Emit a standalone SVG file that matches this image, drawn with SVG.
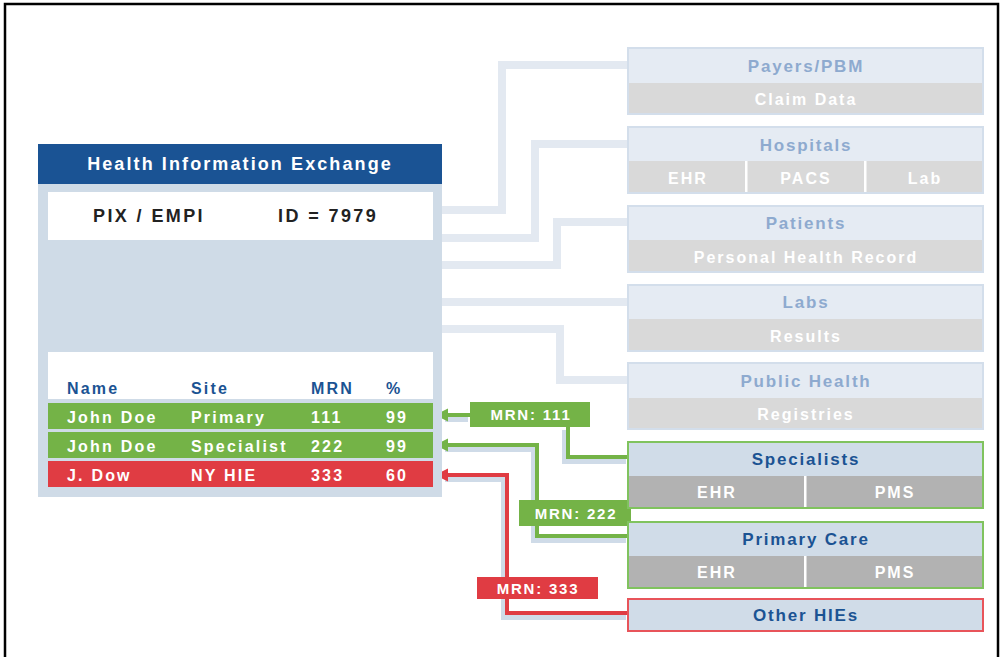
<svg xmlns="http://www.w3.org/2000/svg" width="1003" height="657" viewBox="0 0 1003 657">
<style>
text{font-family:"Liberation Sans",Arial,sans-serif;font-weight:bold;}
.ttl{font-size:17px;letter-spacing:1.8px;text-anchor:middle;}
.lt{fill:#8eaacf;}
.dk{fill:#1b5393;}
.sub{font-size:16px;letter-spacing:2px;fill:#ffffff;text-anchor:middle;}
.tb{font-size:16px;letter-spacing:2.2px;}
.wh{fill:#ffffff;}
.mrn{font-size:15px;letter-spacing:1.8px;fill:#ffffff;text-anchor:middle;}
.lbox{fill:#e5ebf3;stroke:#d3deeb;stroke-width:2;}
.lsub{fill:#d9d9d9;}
.abox{fill:#d0dce8;}
.asub{fill:#b2b2b2;}
.conn{fill:none;stroke:#e3e9f1;stroke-width:8;}
.halo{fill:none;stroke:#cfdbe8;stroke-width:8;}
.g{fill:none;stroke:#74b347;stroke-width:4;}
.r{fill:none;stroke:#e03c43;stroke-width:4;}
</style>
<rect x="5" y="4" width="993" height="680" fill="#ffffff" stroke="#000000" stroke-width="2.5"/>

<g id="connectors">
<path class="conn" d="M442 210 H502 V65 H630"/>
<path class="conn" d="M442 238 H535 V144 H630"/>
<path class="conn" d="M442 265 H557 V222 H630"/>
<path class="conn" d="M442 302 H630"/>
<path class="conn" d="M442 329 H560 V380 H630"/>
<g transform="translate(-2,3)">
<path class="halo" d="M447 415 H470"/>
<path class="halo" d="M568 427 V457 H628"/>
<path class="halo" d="M447 445 H537 V536 H628"/>
<path class="halo" d="M447 475 H507 V613 H628"/>
</g>
<path class="g" d="M446 415 H472"/>
<path class="g" d="M568 426 V457 H629"/>
<path class="g" d="M446 445 H537 V536 H629"/>
<path class="r" d="M446 475 H507 V613 H629"/>
<polygon points="435,415 448,408.5 448,421.5" fill="#74b347"/>
<polygon points="435,445 448,438.5 448,451.5" fill="#74b347"/>
<polygon points="435,475 448,468.5 448,481.5" fill="#e03c43"/>
</g>

<g id="hie">
<rect x="38" y="144" width="404" height="353" fill="#cfdbe7"/>
<rect x="38" y="144" width="404" height="40" fill="#1a5394"/>
<text x="240" y="170" font-size="18" letter-spacing="2.1" fill="#ffffff" text-anchor="middle">Health Information Exchange</text>
<rect x="48" y="192" width="385" height="48" fill="#ffffff"/>
<text x="93" y="222" font-size="18" letter-spacing="2.4" fill="#222222">PIX / EMPI</text>
<text x="278" y="222" font-size="18" letter-spacing="2.4" fill="#222222">ID = 7979</text>
<rect x="48" y="352" width="385" height="47" fill="#ffffff"/>
<text class="tb dk" x="67" y="394">Name</text>
<text class="tb dk" x="191" y="394">Site</text>
<text class="tb dk" x="311" y="394">MRN</text>
<text class="tb dk" x="386" y="394">%</text>
<rect x="48" y="403" width="385" height="26" fill="#74b347"/>
<text class="tb wh" x="67" y="423">John Doe</text>
<text class="tb wh" x="191" y="423">Primary</text>
<text class="tb wh" x="311" y="423">111</text>
<text class="tb wh" x="386" y="423">99</text>
<rect x="48" y="432" width="385" height="26" fill="#74b347"/>
<text class="tb wh" x="67" y="452">John Doe</text>
<text class="tb wh" x="191" y="452">Specialist</text>
<text class="tb wh" x="311" y="452">222</text>
<text class="tb wh" x="386" y="452">99</text>
<rect x="48" y="461" width="385" height="26" fill="#e03c43"/>
<text class="tb wh" x="67" y="481">J. Dow</text>
<text class="tb wh" x="191" y="481">NY HIE</text>
<text class="tb wh" x="311" y="481">333</text>
<text class="tb wh" x="386" y="481">60</text>
</g>

<g id="mrn111">
<rect x="470" y="402" width="120" height="25" fill="#74b347"/>
<text class="mrn" x="531" y="420">MRN: 111</text>
</g>
<g id="mrn222">
<rect x="519" y="500" width="112" height="26" fill="#74b347"/>
<text class="mrn" x="576" y="519">MRN: 222</text>
</g>
<g id="mrn333">
<rect x="477" y="577" width="121" height="22" fill="#e03c43"/>
<text class="mrn" x="538" y="594">MRN: 333</text>
</g>

<g id="payers">
<rect class="lbox" x="628" y="48" width="355" height="66"/>
<rect class="lsub" x="629" y="83" width="353" height="30"/>
<text class="ttl lt" x="806" y="72">Payers/PBM</text>
<text class="sub" x="806" y="105">Claim Data</text>
</g>
<g id="hospitals">
<rect class="lbox" x="628" y="127" width="355" height="66"/>
<rect class="lsub" x="629" y="161" width="353" height="31"/>
<rect x="745" y="161" width="2.5" height="31" fill="#ffffff"/>
<rect x="864" y="161" width="2.5" height="31" fill="#ffffff"/>
<text class="ttl lt" x="806" y="151">Hospitals</text>
<text class="sub" x="688" y="184">EHR</text>
<text class="sub" x="806" y="184">PACS</text>
<text class="sub" x="925" y="184">Lab</text>
</g>
<g id="patients">
<rect class="lbox" x="628" y="206" width="355" height="66"/>
<rect class="lsub" x="629" y="240" width="353" height="31"/>
<text class="ttl lt" x="806" y="229">Patients</text>
<text class="sub" x="806" y="263">Personal Health Record</text>
</g>
<g id="labs">
<rect class="lbox" x="628" y="285" width="355" height="66"/>
<rect class="lsub" x="629" y="319" width="353" height="31"/>
<text class="ttl lt" x="806" y="308">Labs</text>
<text class="sub" x="806" y="342">Results</text>
</g>
<g id="publichealth">
<rect class="lbox" x="628" y="363" width="355" height="66"/>
<rect class="lsub" x="629" y="398" width="353" height="30"/>
<text class="ttl lt" x="806" y="387">Public Health</text>
<text class="sub" x="806" y="420">Registries</text>
</g>
<g id="specialists">
<rect class="abox" x="628" y="442" width="355" height="66" stroke="#80c35e" stroke-width="2"/>
<rect class="asub" x="629" y="476" width="353" height="31"/>
<rect x="804" y="476" width="2.5" height="31" fill="#ffffff"/>
<text class="ttl dk" x="806" y="465">Specialists</text>
<text class="sub" x="717" y="498">EHR</text>
<text class="sub" x="895" y="498">PMS</text>
</g>
<g id="primarycare">
<rect class="abox" x="628" y="522" width="355" height="66" stroke="#80c35e" stroke-width="2"/>
<rect class="asub" x="629" y="556" width="353" height="31"/>
<rect x="804" y="556" width="2.5" height="31" fill="#ffffff"/>
<text class="ttl dk" x="806" y="545">Primary Care</text>
<text class="sub" x="717" y="578">EHR</text>
<text class="sub" x="895" y="578">PMS</text>
</g>
<g id="otherhies">
<rect class="abox" x="628" y="599" width="355" height="32" stroke="#e8545a" stroke-width="2"/>
<text class="ttl dk" x="806" y="621">Other HIEs</text>
</g>
</svg>
